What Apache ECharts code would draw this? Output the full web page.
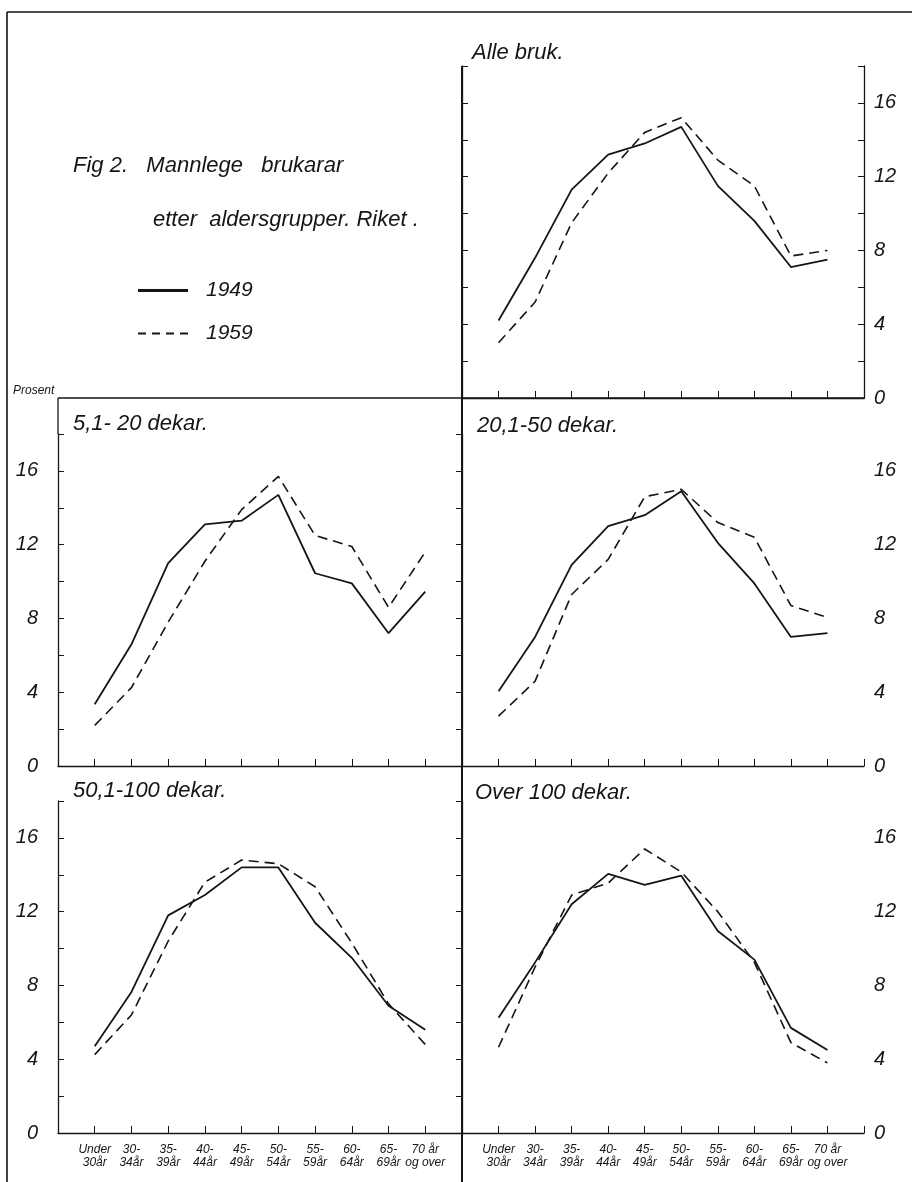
<!DOCTYPE html>
<html>
<head>
<meta charset="utf-8">
<title>Fig 2. Mannlege brukarar</title>
<script src="https://cdn.jsdelivr.net/npm/echarts@6/dist/echarts.min.js"></script>
<style>
    html, body { margin: 0; padding: 0; background: #fff; }
    #chart { width: 912px; height: 1182px; }
</style>
</head>
<body>
<div id="chart"></div>
<script>
// aldersgrupper (x-aksen)
var categories = ['Under\n30år', '30-\n34år', '35-\n39år', '40-\n44år', '45-\n49år',
    '50-\n54år', '55-\n59år', '60-\n64år', '65-\n69år', '70 år\nog over'];
var yLabels = [0, 4, 8, 12, 16];

// prosent, 1949 og 1959
var alle1949 = [4.2, 7.6, 11.3, 13.2, 13.8, 14.7, 11.5, 9.6, 7.1, 7.5];
var alle1959 = [3.0, 5.2, 9.5, 12.2, 14.4, 15.2, 12.9, 11.5, 7.7, 8.0];
var d5_20_1949 = [3.35, 6.6, 11.0, 13.1, 13.3, 14.7, 10.45, 9.9, 7.2, 9.45];
var d5_20_1959 = [2.2, 4.25, 7.8, 11.1, 13.9, 15.7, 12.5, 11.9, 8.6, 11.6];
var d20_50_1949 = [4.05, 7.0, 10.9, 13.0, 13.6, 14.9, 12.1, 9.9, 7.0, 7.2];
var d20_50_1959 = [2.7, 4.6, 9.3, 11.2, 14.6, 15.0, 13.2, 12.4, 8.7, 8.05];
var d50_100_1949 = [4.7, 7.65, 11.8, 12.9, 14.4, 14.4, 11.4, 9.5, 6.9, 5.6];
var d50_100_1959 = [4.25, 6.4, 10.4, 13.6, 14.8, 14.6, 13.35, 10.3, 7.0, 4.8];
var over100_1949 = [6.25, 9.25, 12.4, 14.05, 13.45, 13.95, 10.95, 9.4, 5.7, 4.5];
var over100_1959 = [4.65, 9.0, 12.9, 13.55, 15.4, 14.15, 12.0, 9.25, 4.9, 3.8];

var ink = '#151515';
var font = 'Liberation Sans';

var panels = [
    { title: 'Alle bruk.', grid: { left: 462, top: 66, width: 402, height: 332 }, t: [472, 42], y: ['left-ticks', 'right'], xLabels: false, a: alle1949, b: alle1959 },
    { title: '5,1- 20 dekar.', grid: { left: 58, top: 434, width: 404, height: 332 }, t: [73, 413], y: ['left'], xLabels: false, a: d5_20_1949, b: d5_20_1959 },
    { title: '20,1-50 dekar.', grid: { left: 462, top: 434, width: 402, height: 332 }, t: [477, 415], y: ['right'], xLabels: false, a: d20_50_1949, b: d20_50_1959 },
    { title: '50,1-100 dekar.', grid: { left: 58, top: 801, width: 404, height: 332 }, t: [73, 780], y: ['left'], xLabels: true, a: d50_100_1949, b: d50_100_1959 },
    { title: 'Over 100 dekar.', grid: { left: 462, top: 801, width: 402, height: 332 }, t: [475, 782], y: ['right'], xLabels: true, a: over100_1949, b: over100_1959 }
];

function toPoints(values) {
    return values.map(function (v, i) { return [i + 1, v]; });
}

function makeYAxis(gi, kind) {
    var pos = kind === 'right' ? 'right' : 'left';
    var labels = kind !== 'left-ticks';
    return {
        type: 'value', gridIndex: gi, position: pos, min: 0, max: 18, interval: 2,
        axisLine: { show: true, lineStyle: { color: ink, width: 1.3 } },
        axisTick: { show: true, inside: true, length: 6, lineStyle: { color: ink, width: 1 } },
        splitLine: { show: false },
        axisLabel: {
            show: labels, margin: pos === 'left' ? 20 : 10,
            color: ink, fontFamily: font, fontStyle: 'italic', fontSize: 20,
            formatter: function (v) { return yLabels.indexOf(v) >= 0 ? String(v) : ''; }
        }
    };
}

var grids = [], xAxes = [], yAxes = [], series = [], titles = [];

panels.forEach(function (p, gi) {
    grids.push(p.grid);
    xAxes.push({
        type: 'value', gridIndex: gi, min: 0, max: 11, interval: 1,
        axisLine: { show: true, lineStyle: { color: ink, width: 1.3 } },
        axisTick: { show: true, inside: true, length: 7, lineStyle: { color: ink, width: 1 } },
        splitLine: { show: false },
        axisLabel: {
            show: p.xLabels, margin: 10, color: ink, fontFamily: font, fontStyle: 'italic',
            fontSize: 12, lineHeight: 13,
            formatter: function (v) { return categories[v - 1] || ''; }
        }
    });
    var yi = -1;
    p.y.forEach(function (kind) {
        yAxes.push(makeYAxis(gi, kind));
        if (kind !== 'left-ticks') yi = yAxes.length - 1;
    });
    series.push({
        name: '1949', type: 'line', xAxisIndex: gi, yAxisIndex: yi, data: toPoints(p.a),
        symbol: 'none', silent: true, itemStyle: { color: ink }, lineStyle: { color: ink, width: 1.8 }
    });
    series.push({
        name: '1959', type: 'line', xAxisIndex: gi, yAxisIndex: yi, data: toPoints(p.b),
        symbol: 'none', silent: true, itemStyle: { color: ink }, lineStyle: { color: ink, width: 1.6, type: [10, 6] }
    });
    titles.push({
        text: p.title, left: p.t[0], top: p.t[1], padding: 0,
        textStyle: { color: ink, fontFamily: font, fontStyle: 'italic', fontWeight: 'normal', fontSize: 22 }
    });
});

// figurtekst
titles.push({ text: 'Fig 2.   Mannlege   brukarar', left: 73, top: 155, padding: 0,
    textStyle: { color: ink, fontFamily: font, fontStyle: 'italic', fontWeight: 'normal', fontSize: 22 } });
titles.push({ text: 'etter  aldersgrupper. Riket .', left: 153, top: 209, padding: 0,
    textStyle: { color: ink, fontFamily: font, fontStyle: 'italic', fontWeight: 'normal', fontSize: 22 } });
titles.push({ text: 'Prosent', left: 13, top: 385, padding: 0,
    textStyle: { color: ink, fontFamily: font, fontStyle: 'italic', fontWeight: 'normal', fontSize: 12 } });

var frame = { stroke: ink, lineWidth: 1.6 };
var option = {
    animation: false,
    backgroundColor: '#fff',
    title: titles,
    legend: {
        orient: 'vertical', left: 133, top: 275, itemWidth: 50, itemHeight: 14, itemGap: 22,
        selectedMode: false,
        textStyle: { color: ink, fontFamily: font, fontStyle: 'italic', fontSize: 21, padding: [0, 0, 0, 13] },
        data: [
            { name: '1949', icon: 'path://M0,0L50,0L50,3L0,3Z', itemStyle: { color: ink } },
            { name: '1959', icon: 'path://M0,0h8v2h-8zM14,0h8v2h-8zM28,0h8v2h-8zM42,0h8v2h-8z', itemStyle: { color: ink } }
        ]
    },
    grid: grids,
    xAxis: xAxes,
    yAxis: yAxes,
    series: series,
    graphic: [
        // ytre ramme, midtlinje og skillelinje
        { type: 'line', shape: { x1: 7, y1: 12, x2: 912, y2: 12 }, style: frame },
        { type: 'line', shape: { x1: 7, y1: 12, x2: 7, y2: 1182 }, style: frame },
        { type: 'line', shape: { x1: 462, y1: 66, x2: 462, y2: 1182 }, style: { stroke: ink, lineWidth: 2 } },
        { type: 'line', shape: { x1: 58, y1: 398, x2: 864, y2: 398 }, style: { stroke: ink, lineWidth: 1.3 } },
        { type: 'line', shape: { x1: 58, y1: 398, x2: 58, y2: 434 }, style: { stroke: ink, lineWidth: 1.3 } }
    ]
};

echarts.init(document.getElementById('chart')).setOption(option);
</script>
</body>
</html>
